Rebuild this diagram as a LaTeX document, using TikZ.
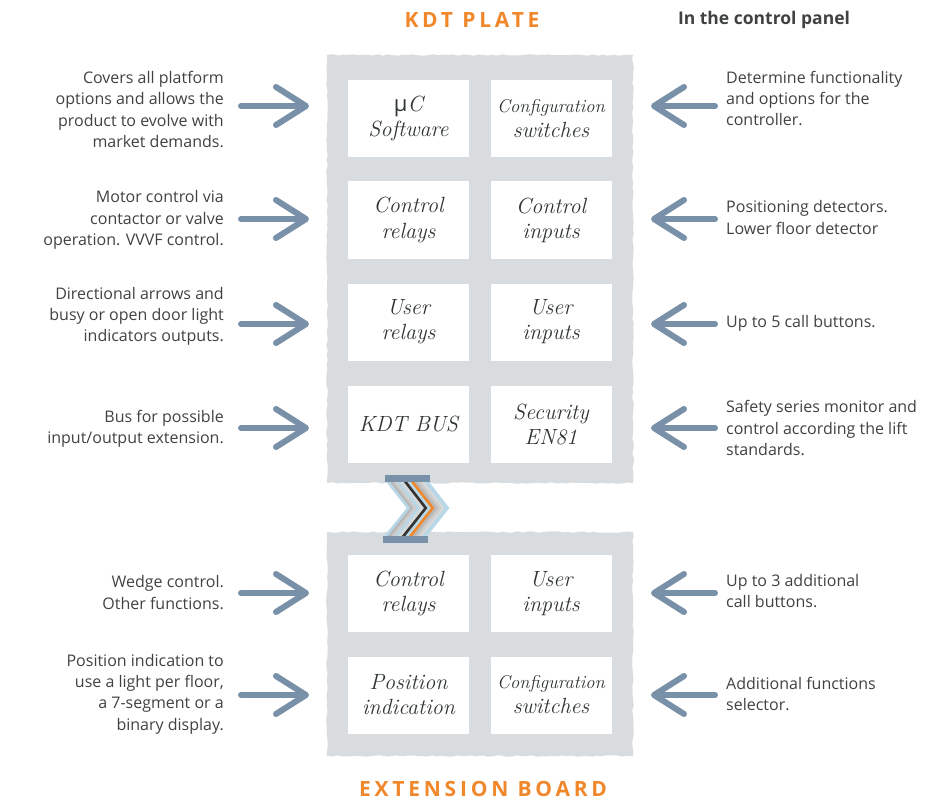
\documentclass[tikz,border=0pt]{standalone}
\usepackage{fontspec}
\newfontfamily\sidefont{Open Sans}
\newfontfamily\titlefont[LetterSpace=18]{Open Sans}
\usetikzlibrary{arrows.meta,decorations.pathmorphing}
\definecolor{boardgray}{HTML}{D9DCDF}
\definecolor{arrowblue}{HTML}{7890A8}
\definecolor{textgray}{HTML}{404242}
\definecolor{kdtorange}{HTML}{F0872A}
\definecolor{handgray}{HTML}{2F3434}
\definecolor{wirelight}{HTML}{B8D8E8}
\tikzset{
  board/.style={fill=boardgray, decorate, decoration={random steps, segment length=5pt, amplitude=0.8pt}},
  cell/.style={fill=white, minimum width=121pt, minimum height=77pt, inner sep=0pt, align=center,
    font=\fontsize{22}{25}\selectfont\itshape, text=handgray},
  lefttext/.style={anchor=east, inner sep=0pt, align=right, font=\sidefont\fontsize{16}{21.3}\selectfont, text=textgray},
  righttext/.style={anchor=west, inner sep=0pt, align=left, font=\sidefont\fontsize{16}{21.3}\selectfont, text=textgray},
  handarrow/.style={draw=arrowblue, line width=6pt, line cap=round,
    -{Straight Barb[length=30pt, width=38pt, line cap=round, line join=round]}},
  boardtitle/.style={font=\titlefont\bfseries\fontsize{21}{21}\selectfont, text=kdtorange},
}
\begin{document}
\begin{tikzpicture}[x=1pt, y=-1pt]
\useasboundingbox (0,0) rectangle (949,802);

\fill[board] (327,55) rectangle (633,483);
\fill[board] (327,532) rectangle (633,756);

\node[boardtitle] (plate) at (472,20) {KDT PLATE};
\node[boardtitle] (ext) at (483,789) {EXTENSION BOARD};
\node[font=\sidefont\bfseries\fontsize{17.5}{17.5}\selectfont, text=textgray] (panel) at (764,20) {In the control panel};

\node[cell] (mc) at (408.5,118.5) {{\upshape\sidefont μ}C\\Software};
\node[cell] (cfg) at (551,118.5) {\fontsize{18.5}{25}\selectfont Configuration\\switches};
\node[cell] (crel) at (408.5,220) {Control\\relays};
\node[cell] (cin) at (551,220) {Control\\inputs};
\node[cell] (urel) at (408.5,322) {User\\relays};
\node[cell] (uin) at (551,322) {User\\inputs};
\node[cell] (bus) at (408.5,424) {KDT BUS};
\node[cell] (sec) at (551,424) {Security\\EN81};
\node[cell] (xrel) at (408.5,593.5) {Control\\relays};
\node[cell] (xin) at (551,593.5) {User\\inputs};
\node[cell] (pos) at (408.5,695) {Position\\indication};
\node[cell] (xcfg) at (551,695) {\fontsize{18.5}{25}\selectfont Configuration\\switches};

\foreach \d/\c in {1/wirelight, 4.5/gray!55, 8/gray!40, 11.5/wirelight, 15/gray!30, 18.5/black!80,
  22/wirelight, 25.5/kdtorange, 29/gray!55, 32.5/gray!40, 36/gray!30, 39/wirelight}
  \draw[\c, line width=3.8pt, line join=miter] (387+\d,481) -- (408+\d,508) -- (385+\d,537);
\fill[arrowblue] (385,475) rectangle (430,482);
\fill[arrowblue] (383,536) rectangle (428,543);

\node[lefttext] (lcov) at (224,109.5) {Covers all platform\\options and allows the\\product to evolve with\\market demands.};
\node[lefttext] (lmot) at (224,220) {Motor control via\\contactor or valve\\operation. VVVF control.};
\node[lefttext] (ldir) at (224,316.5) {Directional arrows and\\busy or open door light\\indicators outputs.};
\node[lefttext] (lbus) at (224,429) {Bus for possible\\input/output extension.};
\node[lefttext] (lwed) at (224,592.5) {Wedge control.\\Other functions.};
\node[lefttext] (lpos) at (224,694) {Position indication to\\use a light per floor,\\a 7-segment or a\\binary display.};

\node[righttext] (rdet) at (726,98.5) {Determine functionality\\and options for the\\controller.};
\node[righttext] (rpos) at (726,217.5) {Positioning detectors.\\Lower floor detector};
\node[righttext] (rcall) at (726,323) {Up to 5 call buttons.};
\node[righttext] (rsaf) at (726,428) {Safety series monitor and\\control according the lift\\standards.};
\node[righttext] (rxcall) at (726,591) {Up to 3 additional\\call buttons.};
\node[righttext] (radd) at (726,694) {Additional functions\\selector.};

\foreach \i/\y in {1/106, 2/219, 3/324, 4/428, 5/593, 6/695} {
  \coordinate (lt\i) at (241,\y);
  \coordinate (lh\i) at (309,\y);
  \coordinate (rt\i) at (715,\y);
  \coordinate (rh\i) at (651,\y);
  \draw[handarrow] (lt\i) -- (lh\i);
  \draw[handarrow] (rt\i) -- (rh\i);
}
\end{tikzpicture}
\end{document}
